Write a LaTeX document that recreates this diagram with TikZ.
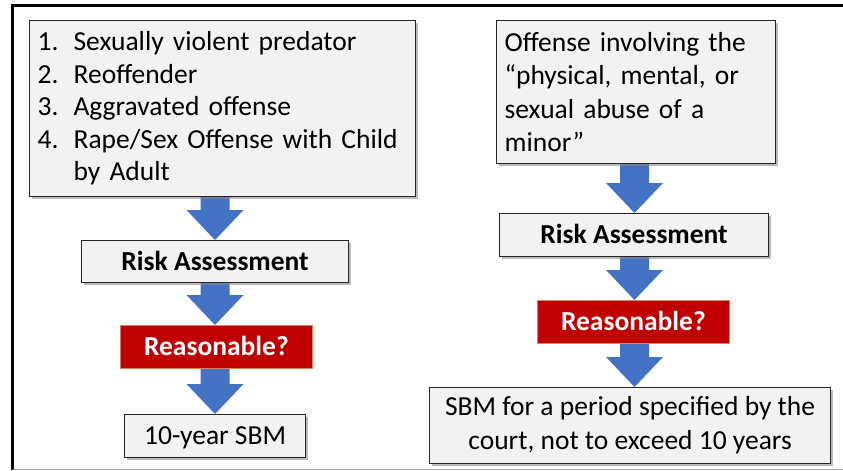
\documentclass[tikz,border=0pt]{standalone}
\usepackage{fontspec}
\setmainfont{Carlito}
\usetikzlibrary{calc,shadows}
\definecolor{boxfill}{HTML}{F2F2F2}
\definecolor{boxline}{HTML}{262626}
\definecolor{arrowblue}{HTML}{4472C4}
\definecolor{decred}{HTML}{C00000}
\definecolor{decline}{HTML}{D9825B}
\pgfdeclarelayer{bg}
\pgfsetlayers{bg,main}
\tikzset{
  every node/.style={font=\fontsize{27.5}{32.5}\selectfont},
  gbox/.style={draw=boxline, line width=1.2pt, fill=boxfill, anchor=north west,
    inner sep=0pt, drop shadow={shadow xshift=2.5pt, shadow yshift=-2.5pt, fill=black!45, opacity=0.6}},
  onel/.style={text height=21pt, text depth=3.3pt},
  decbox/.style={draw=decline, line width=0.8pt, fill=decred, text=white, anchor=north west,
    inner sep=0pt, font=\fontsize{27.5}{32.5}\selectfont\bfseries, text height=21pt, text depth=3.3pt},
  arrowfill/.style={fill=arrowblue}
}
\newcommand\flowarrow[3]{%
  \coordinate (fa-t) at (#1.south -| #3);
  \coordinate (fa-b) at (#2.north -| #3);
  \begin{pgfonlayer}{bg}
  \fill[arrowfill] ([xshift=-14.5pt]fa-t) -- ([xshift=-14.5pt,yshift=30pt]fa-b)
    -- ([xshift=-28.5pt,yshift=30pt]fa-b) -- (fa-b) -- ([xshift=28.5pt,yshift=30pt]fa-b)
    -- ([xshift=14.5pt,yshift=30pt]fa-b) -- ([xshift=14.5pt]fa-t) -- cycle;
  \end{pgfonlayer}
}
\newcommand\lnum[1]{\makebox[36pt][l]{#1}}
\begin{document}
\begin{tikzpicture}[x=1pt,y=-1pt]
\useasboundingbox (0,0) rectangle (843,471);
% frame
\draw[line width=3pt, black] (12.5,470) -- (12.5,5) -- (843,5);
\draw[line width=1.5pt, black!35] (12.5,469.5) -- (843,469.5);
% left column
\node[gbox, minimum width=386pt, minimum height=176pt, text width=370pt, align=left,
  inner xsep=8pt] (crit) at (29,20)
  {\lnum{1.}Sexually violent predator\\
   \lnum{2.}Reoffender\\
   \lnum{3.}Aggravated offense\\
   \lnum{4.}Rape/Sex Offense with Child\\
   \lnum{}by Adult};
\node[gbox, onel, minimum width=267pt, minimum height=42pt, font=\fontsize{27.5}{32.5}\selectfont\bfseries] (riskL) at (81,240) {Risk Assessment};
\node[decbox, minimum width=192pt, minimum height=43pt] (reasL) at (120,325) {Reasonable?};
\node[gbox, onel, minimum width=181pt, minimum height=43pt] (tenL) at (124,414) {10-year SBM};
% right column
\node[gbox, minimum width=279pt, minimum height=143pt, text width=263pt, align=left,
  inner xsep=8pt, font=\fontsize{27.5}{33.3}\selectfont] (minor) at (496,20)
  {Offense involving the\\
   “physical, mental, or\\
   sexual abuse of a\\
   minor”};
\node[gbox, onel, minimum width=269pt, minimum height=43pt, font=\fontsize{27.5}{32.5}\selectfont\bfseries] (riskR) at (499,213) {Risk Assessment};
\node[decbox, minimum width=192pt, minimum height=43pt] (reasR) at (537,300) {Reasonable?};
\node[gbox, minimum width=401pt, minimum height=76pt, align=center,
  font=\fontsize{27.5}{34}\selectfont] (sbmR) at (429,387)
  {SBM for a period specified by the\\court, not to exceed 10 years};
% arrows
\coordinate (axL) at (215,0);
\coordinate (axR) at (634.5,0);
\flowarrow{crit}{riskL}{axL}
\flowarrow{riskL}{reasL}{axL}
\flowarrow{reasL}{tenL}{axL}
\flowarrow{minor}{riskR}{axR}
\flowarrow{riskR}{reasR}{axR}
\flowarrow{reasR}{sbmR}{axR}
\end{tikzpicture}
\end{document}
